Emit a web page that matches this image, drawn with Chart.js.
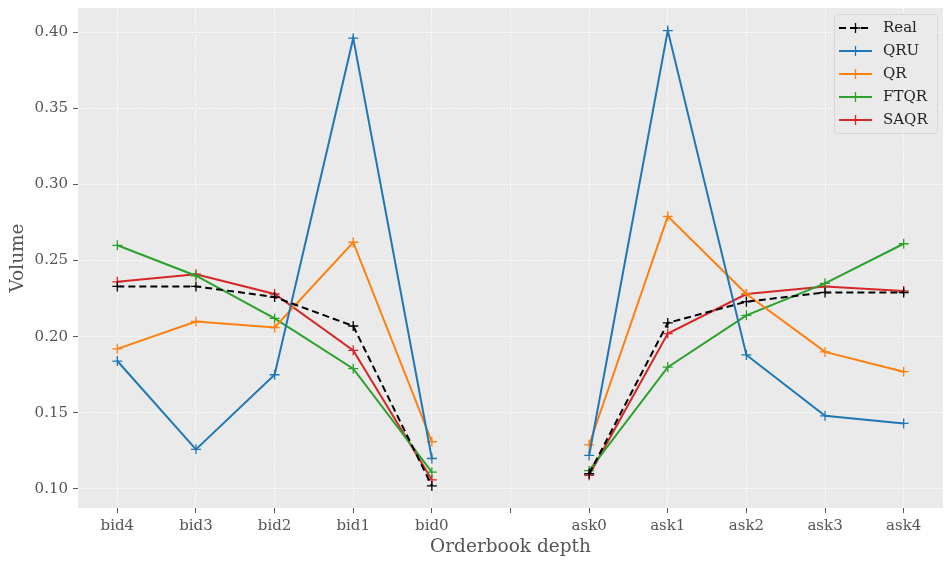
<!DOCTYPE html>
<html><head><meta charset="utf-8">
<script src="https://cdn.jsdelivr.net/npm/chart.js@4.4.1/dist/chart.umd.min.js"></script>
<style>html,body{margin:0;padding:0;background:#fff;}#wrap{width:945px;height:561px;}</style>
</head><body><div id="wrap"><canvas id="c" width="945" height="561"></canvas></div>
<script>
const categories = ["bid4","bid3","bid2","bid1","bid0","","ask0","ask1","ask2","ask3","ask4"];
const realVals = [0.233,0.233,0.226,0.207,0.102,null,0.110,0.209,0.223,0.229,0.229];
const qruVals  = [0.184,0.126,0.175,0.396,0.120,null,0.122,0.401,0.188,0.148,0.143];
const qrVals   = [0.192,0.210,0.206,0.262,0.131,null,0.129,0.279,0.228,0.190,0.177];
const ftqrVals = [0.260,0.240,0.212,0.179,0.111,null,0.112,0.180,0.214,0.235,0.261];
const saqrVals = [0.236,0.241,0.228,0.191,0.106,null,0.109,0.202,0.228,0.233,0.230];
const yTicks = [0.10,0.15,0.20,0.25,0.30,0.35,0.40];

const FONT = "'DejaVu Serif', serif";
const TXT = "#555555";

function ds(label, data, color, dash) {
  return {label, data, borderColor: color, backgroundColor: color, borderWidth: 2,
    borderDash: dash || [], pointStyle: 'cross', pointRadius: 5, pointBorderWidth: 1.3,
    pointBorderColor: color, pointHoverRadius: 5, spanGaps: false, tension: 0, fill: false};
}
const datasets = [
  ds("Real", realVals, "#000000", [7,4]),
  ds("QRU", qruVals, "#1f77b4"),
  ds("QR", qrVals, "#ff7f0e"),
  ds("FTQR", ftqrVals, "#2ca02c"),
  ds("SAQR", saqrVals, "#d62728")
];

const fixAreaPlugin = {
  id: 'fixArea',
  afterLayout(chart) {
    const R = 943;
    const a = chart.chartArea;
    a.right = R; a.width = a.right - a.left;
    const x = chart.scales.x;
    x.right = R; x.width = x.right - x.left;
    x.configure();
  }
};
const bgPlugin = {
  id: 'bg',
  beforeDraw(chart) {
    const {ctx, chartArea: a} = chart;
    ctx.save(); ctx.fillStyle = '#eaeaea';
    ctx.fillRect(a.left, a.top, a.right - a.left, a.bottom - a.top);
    ctx.restore();
  }
};
const legendPlugin = {
  id: 'inlegend',
  afterDraw(chart) {
    const ctx = chart.ctx;
    const x0 = 834, y0 = 14, w = 103, h = 119;
    ctx.save();
    ctx.fillStyle = 'rgba(234,234,234,0.85)';
    ctx.strokeStyle = '#d6d6d6'; ctx.lineWidth = 1;
    ctx.beginPath();
    if (ctx.roundRect) ctx.roundRect(x0 + 0.5, y0 + 0.5, w, h, 3); else ctx.rect(x0 + 0.5, y0 + 0.5, w, h);
    ctx.fill(); ctx.stroke();
    chart.data.datasets.forEach((d, i) => {
      const y = 28 + i * 23;
      ctx.strokeStyle = d.borderColor; ctx.lineWidth = 2;
      ctx.setLineDash(d.borderDash || []);
      ctx.beginPath(); ctx.moveTo(839, y); ctx.lineTo(872, y); ctx.stroke();
      ctx.setLineDash([]);
      ctx.lineWidth = 1.3;
      ctx.beginPath(); ctx.moveTo(855.5 - 5, y); ctx.lineTo(855.5 + 5, y);
      ctx.moveTo(855.5, y - 5); ctx.lineTo(855.5, y + 5); ctx.stroke();
      ctx.fillStyle = '#222'; ctx.font = "15px " + FONT;
      ctx.textBaseline = 'middle'; ctx.textAlign = 'left';
      ctx.fillText(d.label, 883, y);
    });
    ctx.restore();
  }
};

new Chart(document.getElementById('c'), {
  type: 'line',
  data: {labels: categories, datasets},
  options: {
    responsive: false, animation: false, devicePixelRatio: 1,
    layout: {padding: {top: 8, right: 2, left: 0, bottom: 0}},
    plugins: {legend: {display: false}, tooltip: {enabled: false}},
    scales: {
      x: {
        type: 'category', offset: true,
        grid: {offset: false, color: '#ffffff', lineWidth: 1, tickColor: '#555555', tickLength: 5, tickWidth: 1, tickBorderDash: []},
        border: {display: false, dash: [1.5, 1.5]},
        ticks: {color: TXT, font: {family: FONT, size: 15}, padding: 4, maxRotation: 0, autoSkip: false},
        title: {display: true, text: 'Orderbook depth', color: TXT, font: {family: FONT, size: 18.5}, padding: {top: 0, bottom: 3}},
        afterFit(s) { s.height = 53; s.paddingLeft = 0; s.paddingRight = 0; }
      },
      y: {
        type: 'linear', min: 0.0875, max: 0.4158,
        afterBuildTicks(s) { s.ticks = yTicks.map(v => ({value: v})); },
        grid: {color: '#ffffff', lineWidth: 1, tickColor: '#555555', tickLength: 5, tickWidth: 1, tickBorderDash: []},
        border: {display: false, dash: [1.5, 1.5]},
        ticks: {color: TXT, font: {family: FONT, size: 15}, padding: 5, callback: v => Number(v).toFixed(2)},
        title: {display: true, text: 'Volume', color: TXT, font: {family: FONT, size: 18.5}, padding: {top: 7, bottom: 4}},
        afterFit(s) { s.width = 78; s.paddingTop = 0; s.paddingBottom = 0; }
      }
    }
  },
  plugins: [fixAreaPlugin, bgPlugin, legendPlugin]
});
</script></body></html>
